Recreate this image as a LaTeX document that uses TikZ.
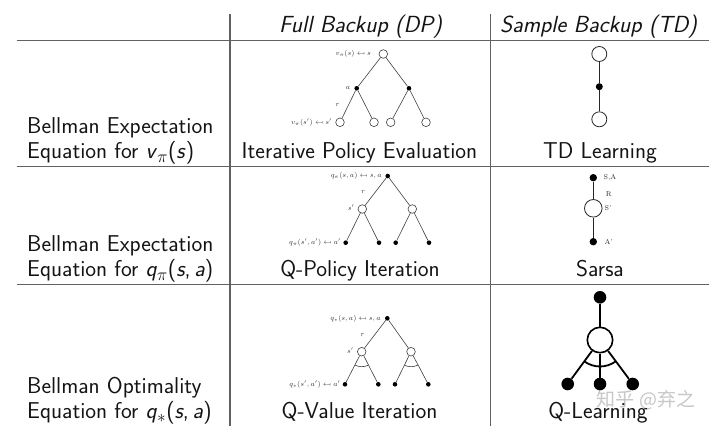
\documentclass[tikz,border=0pt]{standalone}
\usepackage{fontspec}
\usepackage{graphicx}
\newfontfamily\cjk{Noto Sans CJK SC}
\newcommand{\mfrom}{\mathrel{\reflectbox{$\mapsto$}}}
\newcommand{\sit}[1]{\textit{#1}}
\tikzset{
  grid/.style={draw=black!62, line width=1.1pt},
  big/.style={font=\sffamily\fontsize{22.9}{26}\selectfont, inner sep=0pt, text=black!92},
  hdr/.style={font=\sffamily\itshape\fontsize{23.3}{26}\selectfont, inner sep=0pt, text=black!92},
  lbl/.style={font=\fontsize{7.2}{8}\selectfont, inner sep=0pt, text=black!80},
  slbl/.style={font=\fontsize{7}{8}\selectfont, inner sep=0pt, text=black!85},
  sc/.style={circle, draw=black!75, fill=white, line width=0.6pt, minimum size=8.6pt, inner sep=0pt},
  sa/.style={circle, fill=black, minimum size=4.6pt, inner sep=0pt},
  tl/.style={draw=black!75, line width=0.6pt},
  tc/.style={circle, draw=black!85, fill=white, line width=0.8pt, minimum size=15pt, inner sep=0pt},
  td/.style={circle, fill=black, minimum size=7pt, inner sep=0pt},
  tdl/.style={draw=black!85, line width=0.9pt},
  qc/.style={circle, draw=black, fill=white, line width=1.6pt, minimum size=25.4pt, inner sep=0pt},
  qd/.style={circle, fill=black, minimum size=12.6pt, inner sep=0pt},
  ql/.style={draw=black, line width=1.8pt}
}
\begin{document}
\begin{tikzpicture}[x=1pt,y=-1pt]
\useasboundingbox (0,0) rectangle (720,433);
\fill[white] (0,0) rectangle (720,433);

% table lines
\coordinate (hl0) at (16.5,40.7); \coordinate (hr0) at (709,40.7);
\coordinate (hl1) at (16.5,166.7); \coordinate (hr1) at (709,166.7);
\coordinate (hl2) at (16.5,284.7); \coordinate (hr2) at (709,284.7);
\coordinate (v1t) at (230,14); \coordinate (v1b) at (230,426);
\coordinate (v2t) at (490.5,14); \coordinate (v2b) at (490.5,426);
\draw[grid] (hl0) -- (hr0);
\draw[grid] (hl1) -- (hr1);
\draw[grid] (hl2) -- (hr2);
\draw[grid] (v1t) -- (v1b);
\draw[grid] (v2t) -- (v2b);

% headers
\node[hdr, anchor=base] (h1) at (360.5,32.5) {Full Backup (DP)};
\node[hdr, anchor=base] (h2) at (598.5,32.5) {Sample Backup (TD)};

% left column
\node[big, anchor=base west] (t1a) at (27,133.5) {Bellman Expectation};
\node[big, anchor=base west] (t1b) at (27,158.5) {Equation for \sit{v}$_\pi$(\sit{s})};
\node[big, anchor=base west] (t2a) at (27,251.7) {Bellman Expectation};
\node[big, anchor=base west] (t2b) at (27,276.7) {Equation for \sit{q}$_\pi$(\sit{s},\,\sit{a})};
\node[big, anchor=base west] (t3a) at (27,393.5) {Bellman Optimality};
\node[big, anchor=base west] (t3b) at (27,418.5) {Equation for \sit{q}$_*$(\sit{s},\,\sit{a})};

% ---- Row 1 full backup
\node[sc] (r1) at (383.3,54) {};
\node[sa] (r1a1) at (356.7,88.3) {};
\node[sa] (r1a2) at (409,88.3) {};
\node[sc] (r1l1) at (340,122.3) {};
\node[sc] (r1l2) at (374,122.3) {};
\node[sc] (r1l3) at (390.7,122.3) {};
\node[sc] (r1l4) at (426,122.3) {};
\draw[tl] (r1) -- (r1a1);
\draw[tl] (r1) -- (r1a2);
\draw[tl] (r1a1) -- (r1l1);
\draw[tl] (r1a1) -- (r1l2);
\draw[tl] (r1a2) -- (r1l3);
\draw[tl] (r1a2) -- (r1l4);
\node[lbl, anchor=east] (r1lab) at (371,54) {$v_\pi(s)\mfrom s$};
\node[lbl, anchor=east] (r1alab) at (350.5,87.5) {$a$};
\node[lbl] (r1rlab) at (337.7,104.5) {$r$};
\node[lbl, anchor=east] (r1llab) at (332,122.3) {$v_\pi(s')\mfrom s'$};
\node[big, anchor=base] (n1) at (359.5,158.5) {Iterative Policy Evaluation};

% ---- Row 1 TD
\node[tc] (t1c1) at (599.3,54) {};
\node[td] (t1d) at (599.3,86.7) {};
\node[tc] (t1c2) at (599.3,119.3) {};
\draw[tdl] (t1c1) -- (t1d);
\draw[tdl] (t1d) -- (t1c2);
\node[big, anchor=base] (n2) at (600,158.5) {TD Learning};

% ---- Row 2 full backup
\node[sa] (r2) at (387.7,176) {};
\node[sc] (r2s1) at (362.3,209) {};
\node[sc] (r2s2) at (412.3,209) {};
\node[sa] (r2l1) at (345.7,242.7) {};
\node[sa] (r2l2) at (379,242.7) {};
\node[sa] (r2l3) at (395.7,242.7) {};
\node[sa] (r2l4) at (429,242.7) {};
\draw[tl] (r2) -- (r2s1);
\draw[tl] (r2) -- (r2s2);
\draw[tl] (r2s1) -- (r2l1);
\draw[tl] (r2s1) -- (r2l2);
\draw[tl] (r2s2) -- (r2l3);
\draw[tl] (r2s2) -- (r2l4);
\node[lbl, anchor=east] (r2lab) at (382,176) {$q_\pi(s,a)\mfrom s,a$};
\node[lbl] (r2rlab) at (363.3,192) {$r$};
\node[lbl, anchor=east] (r2slab) at (354.5,208) {$s'$};
\node[lbl, anchor=east] (r2llab) at (341,242.7) {$q_\pi(s',a')\mfrom a'$};
\node[big, anchor=base] (n3) at (360,276.7) {Q-Policy Iteration};

% ---- Row 2 TD (Sarsa)
\node[td, minimum size=7.4pt] (t2d1) at (593.3,177.7) {};
\node[tc, minimum size=17.6pt] (t2c) at (593.3,208.3) {};
\node[td, minimum size=7.4pt] (t2d2) at (593.3,241.7) {};
\draw[tdl] (t2d1) -- (t2c);
\draw[tdl] (t2c) -- (t2d2);
\node[slbl, anchor=west] (t2l1) at (603.5,177.7) {S,A};
\node[slbl] (t2l2) at (608.7,194.3) {R};
\node[slbl, anchor=west] (t2l3) at (604.5,208.3) {S'};
\node[slbl, anchor=west] (t2l4) at (604.5,241.7) {A'};
\node[big, anchor=base] (n4) at (600,276.7) {Sarsa};

% ---- Row 3 full backup
\node[sa] (r3) at (387.3,318.3) {};
\node[sc] (r3s1) at (361.7,351.7) {};
\node[sc] (r3s2) at (411,351.7) {};
\node[sa] (r3l1) at (345,384.3) {};
\node[sa] (r3l2) at (378.3,384.3) {};
\node[sa] (r3l3) at (395,384.3) {};
\node[sa] (r3l4) at (428.3,384.3) {};
\draw[tl] (r3) -- (r3s1);
\draw[tl] (r3) -- (r3s2);
\draw[tl] (r3s1) -- (r3l1);
\draw[tl] (r3s1) -- (r3l2);
\draw[tl] (r3s2) -- (r3l3);
\draw[tl] (r3s2) -- (r3l4);
\draw[tl] (r3s1.center) ++(62.9:15) arc[start angle=62.9, end angle=117.1, radius=15];
\draw[tl] (r3s2.center) ++(62.9:15) arc[start angle=62.9, end angle=117.1, radius=15];
\node[lbl, anchor=east] (r3lab) at (381,318.3) {$q_*(s,a)\mfrom s,a$};
\node[lbl] (r3rlab) at (362.7,334.5) {$r$};
\node[lbl, anchor=east] (r3slab) at (353.8,350.2) {$s'$};
\node[lbl, anchor=east] (r3llab) at (340.5,384.3) {$q_*(s',a')\mfrom a'$};
\node[big, anchor=base] (n5) at (359.5,418.5) {Q-Value Iteration};

% ---- Row 3 TD (Q-learning)
\node[font=\cjk\fontsize{19}{20}\selectfont, text=black!22, anchor=center, inner sep=0pt] (wm) at (646,400) {知乎 @弃之};
\node[qd] (t3d) at (600,297.3) {};
\node[qc] (t3c) at (600,340) {};
\node[qd] (t3l1) at (567.7,384) {};
\node[qd] (t3l2) at (600,384) {};
\node[qd] (t3l3) at (632.7,384) {};
\draw[ql] (t3d) -- (t3c);
\draw[ql] (t3c) -- (t3l1);
\draw[ql] (t3c) -- (t3l2);
\draw[ql] (t3c) -- (t3l3);
\draw[ql] (t3c.center) ++(53.7:26.5) arc[start angle=53.7, end angle=126.3, radius=26.5];
\node[big, anchor=base] (n6) at (598,418.5) {Q-Learning};
\end{tikzpicture}
\end{document}
